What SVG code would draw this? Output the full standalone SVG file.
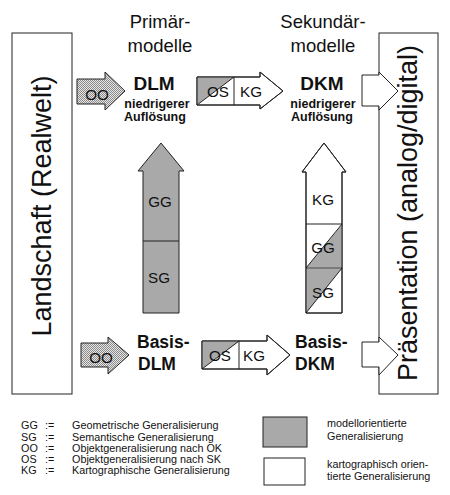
<svg xmlns="http://www.w3.org/2000/svg" width="450" height="495" viewBox="0 0 450 495">
<defs>
<pattern id="stip" width="2" height="2" patternUnits="userSpaceOnUse">
<rect width="2" height="2" fill="#e6e6e6"/>
<rect width="1" height="1" fill="#8a8a8a"/>
<rect x="1" y="1" width="1" height="1" fill="#8a8a8a"/>
</pattern>
<style>
text{font-family:"Liberation Sans",Arial,sans-serif;fill:#111}
.box{fill:#fff;stroke:#222;stroke-width:1}
.ln{fill:none;stroke:#222;stroke-width:1}
.gr{fill:#a9a9a9;stroke:none}
.wa{fill:#fff;stroke:#222;stroke-width:1;stroke-linejoin:miter}
.ga{fill:#a9a9a9;stroke:#222;stroke-width:1}
.sa{fill:url(#stip);stroke:#222;stroke-width:1}
.big{font-size:27px}
.hd{font-size:18.5px;text-anchor:middle}
.b19{font-size:19px;font-weight:bold;text-anchor:middle}
.b12{font-size:12.5px;font-weight:bold;text-anchor:middle}
.b17{font-size:17.5px;font-weight:bold}
.lb{font-size:15.2px;text-anchor:middle}
.lg{font-size:10.8px}
</style>
</defs>

<g id="landschaft">
<rect class="box" x="12" y="33" width="60" height="361"/>
<text class="big" text-anchor="middle" transform="translate(51,206) rotate(-90)">Landschaft (Realwelt)</text>
</g>

<g id="praesentation">
<rect class="box" x="379" y="33" width="59" height="361"/>
<text class="big" text-anchor="middle" transform="translate(417,213) rotate(-90)">Präsentation (analog/digital)</text>
</g>

<g id="title-primaer">
<text class="hd" x="160" y="28">Primär-</text>
<text class="hd" x="160" y="52">modelle</text>
</g>
<g id="title-sekundaer">
<text class="hd" x="323" y="28">Sekundär-</text>
<text class="hd" x="323" y="52">modelle</text>
</g>

<g id="dlm">
<text class="b19" x="154" y="90">DLM</text>
<text class="b12" x="157" y="108">niedrigerer</text>
<text class="b12" x="155" y="121">Auflösung</text>
</g>
<g id="dkm">
<text class="b19" x="322" y="90">DKM</text>
<text class="b12" x="323" y="108">niedrigerer</text>
<text class="b12" x="322" y="121">Auflösung</text>
</g>
<g id="basis-dlm">
<text class="b17" x="137" y="348">Basis-</text>
<text class="b17" x="138" y="370">DLM</text>
</g>
<g id="basis-dkm">
<text class="b17" x="295" y="348">Basis-</text>
<text class="b17" x="295" y="370">DKM</text>
</g>

<g id="connectors">
<!-- OO top -->
<polygon class="sa" points="77,79 105,79 105,72 125,91 105,110 105,104 77,104"/>
<text class="lb" x="97" y="100">OO</text>
<!-- OO bottom -->
<polygon class="sa" points="81,343 108,343 108,337 129,355 108,374 108,367 81,367"/>
<text class="lb" x="101" y="363">OO</text>

<!-- OS/KG top -->
<polygon class="wa" points="197,77 260,77 260,72 283,91 260,109 260,105 197,105"/>
<polygon class="gr" points="197.5,77.5 233.5,77.5 197.5,104.5"/>
<line class="ln" x1="197" y1="105" x2="234" y2="77"/>
<line class="ln" x1="234" y1="77" x2="234" y2="105"/>
<polygon class="ln" points="197,77 260,77 260,72 283,91 260,109 260,105 197,105"/>
<text class="lb" x="218" y="97">OS</text>
<text class="lb" x="251" y="97">KG</text>

<!-- OS/KG bottom -->
<polygon class="wa" points="202,341 267,341 267,335 290,355 267,375 267,369 202,369"/>
<polygon class="gr" points="202.5,341.5 238.5,341.5 202.5,368.5"/>
<line class="ln" x1="202" y1="369" x2="239" y2="341"/>
<line class="ln" x1="239" y1="341" x2="239" y2="369"/>
<polygon class="ln" points="202,341 267,341 267,335 290,355 267,375 267,369 202,369"/>
<text class="lb" x="220" y="361">OS</text>
<text class="lb" x="254" y="361">KG</text>

<!-- DKM to Praesentation -->
<polygon class="wa" points="362,75 379,75 379,72 398,91 379,110 379,106 362,106"/>
<polygon class="wa" points="362,342 379,342 379,337 398,355 379,375 379,367 362,367"/>

<!-- grey vertical GG/SG -->
<polygon class="ga" points="143,313 143,171 138,171 161,143 184,171 179,171 179,313"/>
<line class="ln" x1="143" y1="241" x2="179" y2="241"/>
<text class="lb" x="160" y="207">GG</text>
<text class="lb" x="159" y="283">SG</text>

<!-- white vertical KG/GG/SG -->
<polygon class="wa" points="306,313 306,172 302,172 324,143 346,172 342,172 342,313"/>
<polygon class="gr" points="342,224.5 342,267.5 306.5,267.5"/>
<polygon class="gr" points="306.5,268.5 341.5,268.5 306.5,312.5"/>
<line class="ln" x1="306" y1="224" x2="342" y2="224"/>
<line class="ln" x1="306" y1="268" x2="342" y2="268"/>
<line class="ln" x1="306" y1="268" x2="342" y2="224"/>
<line class="ln" x1="306" y1="313" x2="342" y2="268"/>
<polygon class="ln" points="306,313 306,172 302,172 324,143 346,172 342,172 342,313"/>
<text class="lb" x="323" y="205">KG</text>
<text class="lb" x="323" y="253">GG</text>
<text class="lb" x="323" y="298">SG</text>
</g>

<g id="legend">
<text class="lg" x="21" y="429">GG</text><text class="lg" x="45" y="429">:=</text><text class="lg" x="72" y="429">Geometrische Generalisierung</text>
<text class="lg" x="21" y="440.5">SG</text><text class="lg" x="45" y="440.5">:=</text><text class="lg" x="72" y="440.5">Semantische Generalisierung</text>
<text class="lg" x="21" y="452">OO</text><text class="lg" x="45" y="452">:=</text><text class="lg" x="72" y="452">Objektgeneralisierung nach OK</text>
<text class="lg" x="21" y="463">OS</text><text class="lg" x="45" y="463">:=</text><text class="lg" x="72" y="463">Objektgeneralisierung nach SK</text>
<text class="lg" x="21" y="474">KG</text><text class="lg" x="45" y="474">:=</text><text class="lg" x="72" y="474">Kartographische Generalisierung</text>
<rect class="ga" x="263" y="417" width="44" height="30"/>
<text class="lg" x="327" y="427">modellorientierte</text>
<text class="lg" x="327" y="440">Generalisierung</text>
<rect class="box" x="264" y="458" width="41" height="27"/>
<text class="lg" x="327" y="468">kartographisch orien-</text>
<text class="lg" x="327" y="480">tierte Generalisierung</text>
</g>
</svg>
